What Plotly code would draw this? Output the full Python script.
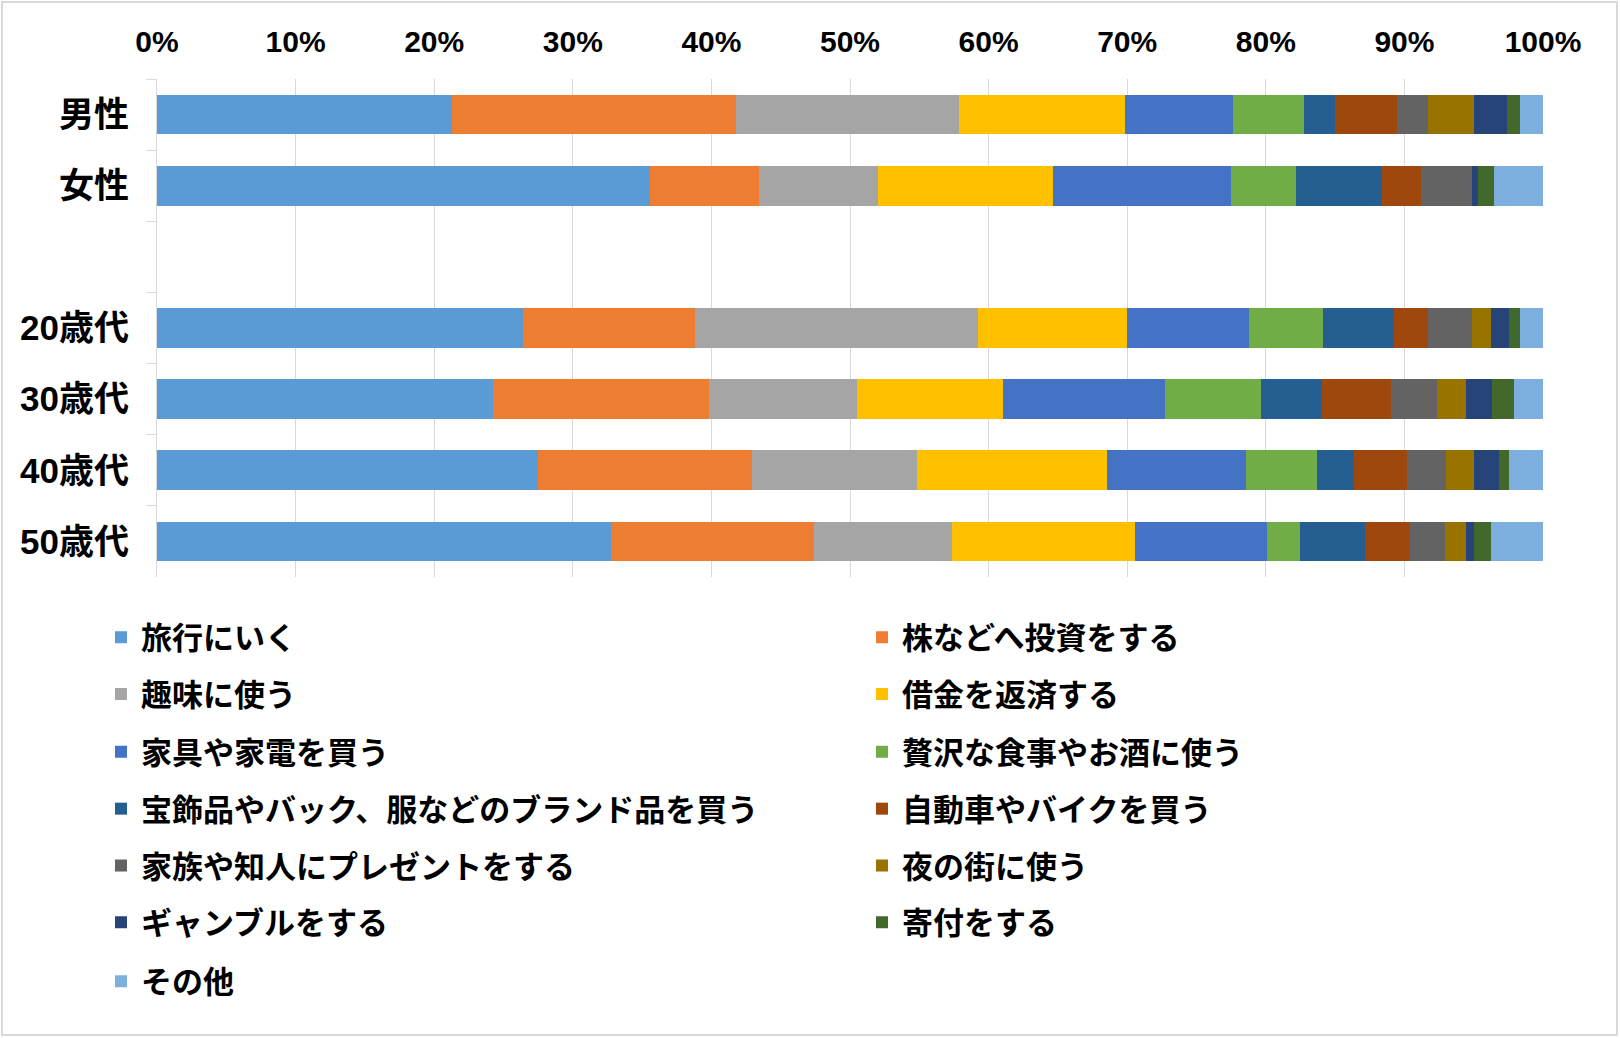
import plotly.graph_objects as go

categories = ["男性", "女性", " ", "20歳代", "30歳代", "40歳代", "50歳代"]

series_names = [
    "旅行にいく", "株などへ投資をする", "趣味に使う", "借金を返済する",
    "家具や家電を買う", "贅沢な食事やお酒に使う", "宝飾品やバック、服などのブランド品を買う",
    "自動車やバイクを買う", "家族や知人にプレゼントをする", "夜の街に使う",
    "ギャンブルをする", "寄付をする", "その他",
]

colors = ["#5B9BD5", "#ED7D31", "#A5A5A5", "#FFC000", "#4472C4", "#70AD47", "#255E91",
          "#9E480E", "#636363", "#997300", "#264478", "#43682B", "#7CAFDD"]

# values (%) per series, in category order (blank row = None)
travel    = [21.27, 35.56, None, 26.43, 24.25, 27.46, 32.75]
invest    = [20.53, 7.84, None, 12.41, 15.58, 15.48, 14.65]
hobby     = [16.04, 8.63, None, 20.42, 10.70, 11.91, 9.94]
debt      = [12.01, 12.61, None, 10.69, 10.49, 13.71, 13.21]
furniture = [7.81, 12.82, None, 8.83, 11.72, 9.99, 9.53]
dining    = [5.08, 4.71, None, 5.38, 6.94, 5.15, 2.39]
brand     = [2.22, 6.18, None, 5.08, 4.38, 2.69, 4.68]
car       = [4.48, 2.85, None, 2.49, 4.98, 3.82, 3.22]
gift      = [2.26, 3.69, None, 3.12, 3.32, 2.82, 2.59]
nightlife = [3.32, 0.0, None, 1.43, 2.10, 1.99, 1.50]
gamble    = [2.36, 0.40, None, 1.30, 1.89, 1.79, 0.53]
donate    = [0.99, 1.16, None, 0.79, 1.56, 0.77, 1.29]
other     = [1.63, 3.55, None, 1.63, 2.09, 2.42, 3.72]

all_series = [travel, invest, hobby, debt, furniture, dining, brand, car, gift,
              nightlife, gamble, donate, other]

fig = go.Figure()
legend_ids = ["legend", "legend2", "legend3", "legend4", "legend5", "legend6", "legend7"]
for i, (name, vals, col) in enumerate(zip(series_names, all_series, colors)):
    fig.add_trace(go.Bar(
        name=name,
        y=categories,
        x=[None if v is None else v / 100 for v in vals],
        orientation="h",
        marker=dict(color=col, line=dict(width=0)),
        legend=legend_ids[i // 2],
    ))

tick_font = dict(family="Liberation Sans, Noto Sans CJK JP, sans-serif", size=30,
                 color="black", weight="bold")
cat_font = dict(family="Liberation Sans, Noto Sans CJK JP, sans-serif", size=35,
                color="black", weight="bold")
legend_font = dict(family="Noto Sans CJK JP, sans-serif", size=31, color="black",
                   weight="bold")

layout_legends = {}
row_y = [-0.1215, -0.2355, -0.3518, -0.4659, -0.5799, -0.694, -0.8123]
for lid, yy in zip(legend_ids, row_y):
    layout_legends[lid] = dict(
        orientation="h", x=-0.0404, xanchor="left", y=yy, yanchor="middle",
        entrywidth=716, entrywidthmode="pixels", font=legend_font,
        bgcolor="rgba(0,0,0,0)", traceorder="normal",
    )

fig.update_layout(
    width=1620, height=1038,
    margin=dict(l=157, r=77, t=79, b=461, autoexpand=False),
    barmode="stack", bargap=0.44,
    paper_bgcolor="white", plot_bgcolor="white",
    showlegend=True,
    **layout_legends,
)

fig.update_xaxes(
    range=[0, 1], side="top", tickformat=".0%", dtick=0.1, tick0=0,
    showgrid=True, gridcolor="#d9d9d9", gridwidth=1, zeroline=False,
    showline=False, ticks="", tickfont=tick_font, ticklabelstandoff=20,
)
fig.update_yaxes(
    type="category", categoryorder="array", categoryarray=categories,
    autorange="reversed", showgrid=False, showline=True, linecolor="#d9d9d9",
    ticks="outside", tickson="boundaries", ticklen=10, tickcolor="#d9d9d9",
    tickfont=cat_font, ticklabelstandoff=20,
)

fig.add_shape(type="rect", xref="paper", yref="paper",
              x0=-0.1118, x1=1.0534, y0=-0.9197, y1=1.1546,
              line=dict(color="#d9d9d9", width=2), fillcolor="rgba(0,0,0,0)", layer="below")

fig.write_html("out.html", config={"displayModeBar": False},
               post_script="document.body.style.margin='0px';")
